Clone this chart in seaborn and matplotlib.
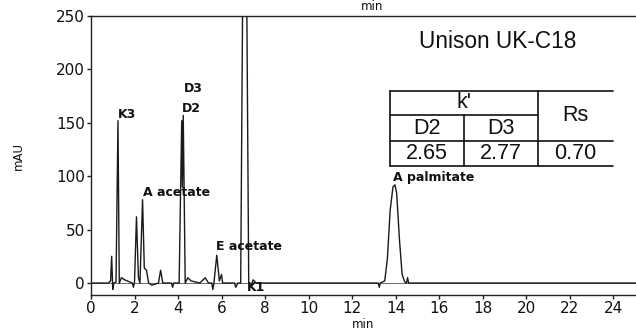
import numpy as np
import pandas as pd
import matplotlib
matplotlib.use("Agg")
import matplotlib.pyplot as plt
import seaborn as sns
from matplotlib.lines import Line2D

# ---- data (time in min, signal in mAU) ----
time = [0.0, 0.80, 0.90, 0.95, 1.00, 1.05, 1.15, 1.24, 1.30, 1.40, 1.55, 1.90, 1.95,
        2.00, 2.09, 2.18, 2.25, 2.37, 2.45, 2.55, 2.65, 2.80, 3.10, 3.20, 3.30, 3.70,
        3.75, 3.80, 4.05, 4.17, 4.20, 4.24, 4.33, 4.45, 4.60, 5.00, 5.25, 5.40, 5.55,
        5.60, 5.65, 5.78, 5.90, 6.00, 6.05, 6.10, 6.60, 6.65, 6.75, 6.88, 6.97, 7.16,
        7.25, 7.35, 7.45, 7.60, 13.20, 13.25, 13.30, 13.50, 13.62, 13.75, 13.88, 13.97,
        14.05, 14.18, 14.30, 14.42, 14.50, 14.55, 14.60, 25.2]
signal = [0, 0, 2, 25, -6, 0, 1, 152, 0, 5, 3, 0, -4,
          1, 62, 5, 0, 78, 14, 12, 0, -2, 0, 12, 0, 0,
          -4, 0, 0, 152, 90, 157, 0, 5, 2, 0, 5, 0, 0,
          -6, 0, 26, 2, 8, 0, 0, 0, -4, 0, 0, 265, 265,
          0, -3, 3, 0, 0, -4, 0, 2, 22, 68, 90, 92,
          84, 40, 8, 1, 0, 5, 0, 0]

peak_labels = ["K3", "D2", "D3", "A acetate", "E acetate", "K1", "A palmitate"]
label_x = [1.22, 4.18, 4.25, 2.4, 5.75, 7.15, 13.9]
label_y = [152, 157, 176, 79, 28, -10, 93]

y_ticks = [0, 50, 100, 150, 200, 250]
x_ticks = [0, 2, 4, 6, 8, 10, 12, 14, 16, 18, 20, 22, 24]

column_name = "Unison UK-C18"
table_header = ["k'", "Rs"]
table_sub = ["D2", "D3"]
table_values = ["2.65", "2.77", "0.70"]

df = pd.DataFrame({"time": time, "signal": signal})

sns.set_style("ticks")
plt.rcParams["font.family"] = ["DejaVu Sans"]

W, H = 636, 333
fig = plt.figure(figsize=(W / 100, H / 100), dpi=100)
ax = fig.add_axes([91 / W, (H - 295) / H, (W - 91) / W, (295 - 16) / H])

sns.lineplot(data=df, x="time", y="signal", ax=ax, color="#1a1a1a", linewidth=1.0,
             estimator=None, sort=False)

ax.set_xlim(0, 25.05)
ax.set_ylim(-11.2, 250)
ax.set_xticks(x_ticks)
ax.set_xticklabels([str(v) for v in x_ticks], fontsize=11)
ax.set_yticks(y_ticks)
ax.set_yticklabels([str(v) for v in y_ticks], fontsize=11)
ax.tick_params(axis="both", length=3, width=1, color="#222222", pad=1.5, labelcolor="#111111")
ax.set_xlabel("min", fontsize=8.5, labelpad=1, color="#111111")
ax.set_ylabel("")
for s in ["left", "bottom", "top"]:
    ax.spines[s].set_color("#222222")
    ax.spines[s].set_linewidth(1.0)
ax.spines["right"].set_visible(False)

# baseline reference line at 0
ax.axhline(0, color="#555555", lw=0.6, zorder=0)

for lab, lx, ly in zip(peak_labels, label_x, label_y):
    ax.text(lx, ly, lab, fontsize=9, fontweight="semibold", ha="left", va="bottom",
            color="#111111")

fig.text(18 / W, 1 - 156 / H, "mAU", fontsize=8.5, rotation=90, ha="center", va="center",
         color="#111111")

# top cut-off text from the chart above
fig.text(372 / W, 1.0, "min", fontsize=8.5, ha="center", va="top", color="#111111")

fig.text(498 / W, 1 - 42 / H, column_name, fontsize=16.3, family="Liberation Sans",
         ha="center", va="center", color="#111111")

# table drawn in figure pixel coordinates
xs = [390, 464, 538, 613]
ys = [91, 115, 141, 166]
def fx(p):
    return p / W
def fy(p):
    return 1 - p / H
lk = dict(color="#111111", lw=1.2)
for yy, x0, x1 in [(ys[0], xs[0], xs[3]), (ys[1], xs[0], xs[2]),
                   (ys[2], xs[0], xs[3]), (ys[3], xs[0], xs[3])]:
    fig.add_artist(Line2D([fx(x0), fx(x1)], [fy(yy), fy(yy)], **lk))
for xx, y0, y1 in [(xs[0], ys[0], ys[3]), (xs[1], ys[1], ys[3]), (xs[2], ys[0], ys[3])]:
    fig.add_artist(Line2D([fx(xx), fx(xx)], [fy(y0), fy(y1)], **lk))

tk = dict(fontsize=15.5, family="Liberation Sans", ha="center", va="center", color="#111111")
fig.text(fx((xs[0] + xs[2]) / 2), fy((ys[0] + ys[1]) / 2), table_header[0], **tk)
fig.text(fx((xs[2] + xs[3]) / 2), fy((ys[0] + ys[2]) / 2), table_header[1], **tk)
fig.text(fx((xs[0] + xs[1]) / 2), fy((ys[1] + ys[2]) / 2), table_sub[0], **tk)
fig.text(fx((xs[1] + xs[2]) / 2), fy((ys[1] + ys[2]) / 2), table_sub[1], **tk)
fig.text(fx((xs[0] + xs[1]) / 2), fy((ys[2] + ys[3]) / 2), table_values[0], **tk)
fig.text(fx((xs[1] + xs[2]) / 2), fy((ys[2] + ys[3]) / 2), table_values[1], **tk)
fig.text(fx((xs[2] + xs[3]) / 2), fy((ys[2] + ys[3]) / 2), table_values[2], **tk)

fig.savefig("out.png", dpi=100)
